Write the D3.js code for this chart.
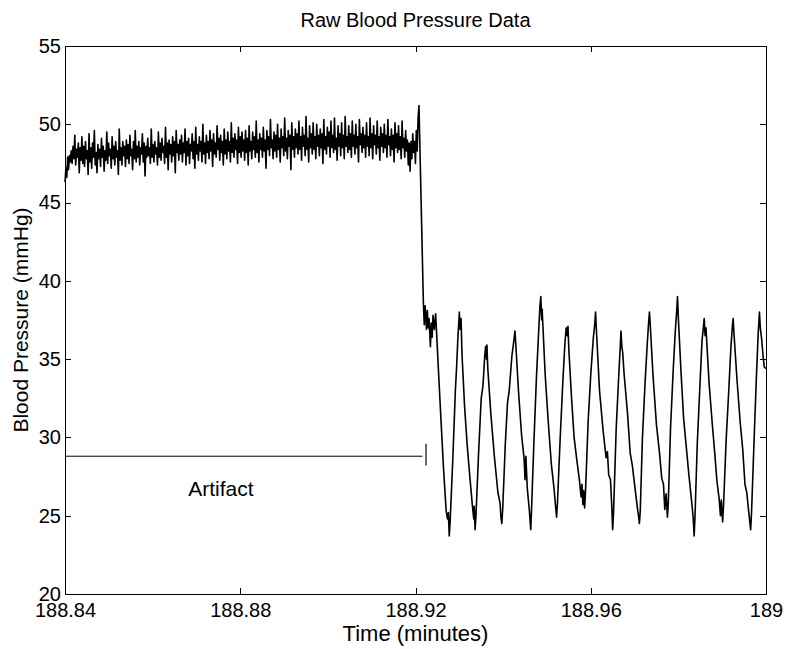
<!DOCTYPE html>
<html lang="en">

<head>
    <meta charset="UTF-8">
    <title>Raw Blood Pressure Data</title>
    <script src="https://d3js.org/d3.v7.min.js"></script>
    <style>
        body {
            margin: 0;
            background: #fff;
            font-family: "Liberation Sans", Arial, sans-serif;
        }

        .axis path,
        .axis line {
            stroke: #000;
            shape-rendering: crispEdges;
        }

        .axis text {
            font-family: "Liberation Sans", Arial, sans-serif;
            font-size: 20px;
            fill: #000;
        }
    </style>
</head>

<body>

    <svg width="790" height="649"></svg>

    <script>
        // evenly sampled segment before the artifact (start time, step in minutes)
        const earlyStart = 188.84;
        const earlyStep = 0.000203;
        const earlyValues = [
            46.3, 47.2, 46.6, 47.9, 47.1, 48.0, 47.6, 48.3, 47.5, 48.6, 47.8, 49.3, 47.4, 48.4, 47.9, 48.8, 46.9, 48.5, 47.7, 49.2,
            47.5, 48.6, 47.3, 48.9, 47.8, 48.3, 46.8, 49.4, 47.6, 48.5, 47.2, 48.8, 47.9, 49.6, 47.4, 48.2, 46.9, 48.7, 47.8, 48.4,
            47.3, 49.1, 47.9, 48.6, 47.0, 48.3, 47.7, 49.5, 47.5, 48.8, 48.0, 48.4, 47.2, 49.2, 47.8, 48.6, 47.4, 48.9, 47.9, 48.3,
            46.8, 49.7, 47.7, 48.5, 47.4, 48.9, 48.0, 48.6, 47.3, 49.0, 47.8, 48.7, 47.5, 49.3, 48.0, 48.4, 47.1, 48.9, 47.8, 49.6,
            47.6, 48.6, 47.9, 48.9, 47.4, 48.5, 48.1, 49.4, 47.6, 48.8, 46.7, 48.6, 47.9, 49.1, 48.0, 48.5, 47.5, 49.7, 47.9, 48.7,
            47.6, 48.9, 48.1, 48.5, 47.4, 49.5, 47.9, 48.8, 47.7, 49.1, 48.2, 48.6, 47.5, 49.8, 47.9, 48.8, 47.1, 49.0, 48.1, 48.7,
            47.6, 49.2, 48.0, 48.9, 46.9, 49.6, 48.2, 48.7, 47.7, 49.0, 48.1, 49.3, 47.6, 48.8, 48.2, 49.7, 47.4, 48.9, 48.0, 49.1,
            47.5, 48.7, 48.3, 49.4, 47.8, 48.9, 47.2, 49.8, 48.1, 48.7, 47.7, 49.2, 48.3, 48.9, 47.6, 50.0, 48.1, 48.8, 47.5, 49.3,
            48.2, 48.9, 47.8, 49.6, 48.3, 49.0, 47.3, 49.4, 48.1, 48.8, 47.9, 49.9, 48.4, 49.1, 47.7, 49.3, 48.2, 48.9, 47.4, 49.7,
            48.1, 49.0, 47.8, 49.5, 48.3, 48.9, 47.6, 50.1, 48.2, 49.1, 47.9, 49.4, 48.4, 49.0, 47.5, 49.8, 48.2, 49.2, 47.9, 49.5,
            48.3, 49.0, 47.7, 49.6, 48.2, 49.1, 47.4, 49.9, 48.3, 48.9, 47.8, 49.5, 48.4, 49.2, 47.9, 50.2, 48.2, 49.0, 47.6, 49.4,
            48.4, 49.1, 47.9, 49.8, 48.3, 49.0, 47.2, 49.6, 48.4, 49.2, 48.0, 50.3, 48.5, 49.0, 47.8, 49.5, 48.3, 49.3, 47.9, 50.0,
            48.4, 49.1, 47.6, 49.7, 48.5, 49.2, 48.0, 50.4, 48.3, 49.1, 47.8, 49.6, 48.6, 49.3, 47.1, 50.1, 48.4, 49.2, 47.9, 49.7,
            48.5, 49.4, 48.1, 50.2, 48.4, 49.2, 47.7, 49.8, 48.6, 49.3, 48.0, 50.5, 48.4, 49.1, 47.6, 49.9, 48.5, 49.4, 48.1, 50.1,
            48.4, 49.2, 47.8, 50.0, 48.6, 49.3, 48.0, 49.7, 48.5, 49.4, 47.5, 50.3, 48.4, 49.2, 48.1, 49.8, 48.6, 49.5, 47.9, 50.2,
            48.5, 49.3, 48.2, 50.4, 48.4, 49.1, 47.7, 49.9, 48.6, 49.4, 48.0, 50.1, 48.5, 49.3, 47.8, 50.5, 48.6, 49.2, 48.2, 49.9,
            48.4, 49.4, 47.9, 50.2, 48.6, 49.3, 48.1, 50.0, 48.5, 49.2, 47.6, 50.3, 48.7, 49.4, 48.2, 49.8, 48.5, 49.3, 47.9, 50.1,
            48.6, 49.2, 48.0, 50.4, 48.5, 49.4, 47.8, 49.9, 48.7, 49.3, 48.1, 50.2, 48.5, 49.2, 47.7, 49.8, 48.6, 49.4, 48.2, 50.0,
            48.5, 49.3, 47.9, 50.3, 48.7, 49.2, 48.0, 49.7, 48.4, 49.3, 47.6, 50.1, 48.5, 49.4, 48.2, 49.9, 48.4, 49.2, 47.8, 50.2,
            48.5, 49.1, 47.9, 49.6, 48.3, 49.0, 47.4, 48.8, 47.0, 48.9, 47.8, 49.4, 48.2, 48.9, 47.5, 49.6, 48.3, 50.4,
            51.2
        ];

        // after the artifact: times and values
        const lateTimes = [
            188.9218, 188.9220, 188.9222, 188.9225, 188.9227, 188.9229, 188.9231, 188.9234, 188.9236, 188.9238, 188.9240, 188.9243, 188.9246,
            188.9252, 188.9258, 188.9264, 188.9270, 188.9273, 188.9275, 188.9277, 188.9279,
            188.9285, 188.9291, 188.9294, 188.9297, 188.9299, 188.9300, 188.9302, 188.9304, 188.9306,
            188.9312, 188.9318, 188.9324, 188.9330, 188.9333, 188.9334, 188.9336, 188.9338,
            188.9344, 188.9350, 188.9354, 188.9358, 188.9360, 188.9362, 188.9363, 188.9365,
            188.9372, 188.9380, 188.9388, 188.9393, 188.9395, 188.9397, 188.9399,
            188.9405, 188.9410, 188.9414, 188.9420, 188.9425, 188.9427, 188.9429,
            188.9435, 188.9442, 188.9448, 188.9450, 188.9452, 188.9455, 188.9460, 188.9463, 188.9465,
            188.9470, 188.9476, 188.9481, 188.9484, 188.9486, 188.9488, 188.9489,
            188.9496, 188.9503, 188.9510, 188.9516, 188.9520, 188.9522, 188.9524,
            188.9530, 188.9536, 188.9541, 188.9544, 188.9546, 188.9548, 188.9550,
            188.9556, 188.9562, 188.9568, 188.9574, 188.9578, 188.9580, 188.9582, 188.9584, 188.9586, 188.9588,
            188.9594, 188.9600, 188.9606, 188.9609, 188.9611, 188.9613,
            188.9620, 188.9628, 188.9635, 188.9638, 188.9641, 188.9645, 188.9648, 188.9650, 188.9652,
            188.9658, 188.9664, 188.9667, 188.9669, 188.9671, 188.9673, 188.9676,
            188.9684, 188.9690, 188.9695, 188.9700, 188.9706, 188.9709, 188.9711, 188.9713,
            188.9718, 188.9724, 188.9729, 188.9732, 188.9734, 188.9736,
            188.9742, 188.9750, 188.9757, 188.9762, 188.9766, 188.9769, 188.9772, 188.9775, 188.9777,
            188.9782, 188.9788, 188.9793, 188.9796, 188.9798, 188.9800,
            188.9806, 188.9812, 188.9818, 188.9824, 188.9830, 188.9834, 188.9836, 188.9838,
            188.9843, 188.9849, 188.9854, 188.9857, 188.9859, 188.9861, 188.9863,
            188.9870, 188.9877, 188.9883, 188.9888, 188.9893, 188.9896, 188.9898, 188.9901, 188.9903,
            188.9909, 188.9915, 188.9920, 188.9923, 188.9925, 188.9927,
            188.9934, 188.9941, 188.9947, 188.9952, 188.9956, 188.9960, 188.9965, 188.9967,
            188.9973, 188.9978, 188.9982, 188.9985, 188.9987, 188.9990, 188.9993, 188.9996, 189.0000
        ];
        const lateValues = [
            38.6, 37.2, 38.4, 36.9, 38.1, 37.0, 37.6, 35.8, 37.3, 36.4, 37.8, 36.9, 37.9,
            34.5, 31.2, 28.0, 25.3, 24.8, 25.2, 23.7, 24.6,
            28.5, 33.0, 34.6, 36.5, 37.4, 38.0, 36.9, 37.6, 35.4,
            32.0, 29.5, 27.5, 25.6, 24.8, 25.6, 24.1, 25.0,
            29.0, 32.5, 33.3, 35.2, 35.8, 35.0, 35.9, 34.4,
            31.5, 28.8, 26.5, 25.8, 24.9, 24.5, 25.4,
            29.6, 32.2, 33.0, 35.2, 36.3, 36.8, 35.9,
            33.0, 30.2, 28.6, 27.3, 28.8, 26.8, 25.3, 24.1, 25.5,
            29.5, 33.8, 36.7, 38.4, 39.0, 37.5, 38.2,
            34.0, 31.0, 28.3, 26.8, 25.5, 24.9, 25.8,
            29.8, 33.4, 36.0, 37.0, 36.5, 37.1, 35.6,
            32.6, 30.0, 28.6, 27.3, 26.2, 27.0, 25.7, 26.6, 25.5, 26.5,
            31.0, 34.0, 36.4, 37.2, 38.0, 36.8,
            33.0, 30.5, 28.7, 29.1, 27.6, 27.3, 25.6, 24.1, 25.2,
            30.5, 34.0, 35.6, 36.8, 35.8, 35.4, 34.1,
            31.5, 29.0, 28.2, 27.0, 25.6, 25.0, 24.5, 25.3,
            30.0, 33.5, 36.0, 37.3, 38.0, 37.1,
            34.0, 30.8, 29.0, 27.4, 27.0, 25.4, 26.4, 24.9, 25.8,
            30.5, 34.2, 36.8, 38.0, 39.0, 37.6,
            34.2, 31.2, 29.4, 27.6, 26.0, 24.8, 23.7, 25.0,
            29.5, 33.2, 36.2, 37.0, 37.6, 36.5, 37.0,
            33.5, 31.0, 29.0, 27.2, 26.1, 25.0, 26.0, 24.6, 25.6,
            29.8, 33.0, 35.8, 37.0, 37.6, 36.6,
            33.6, 31.0, 29.2, 27.0, 26.5, 25.4, 24.1, 25.2,
            30.0, 33.8, 36.5, 38.0, 37.0, 36.3, 35.3, 34.5, 34.4
        ];

        // "Artifact" marker: level line up to the break, short bar just after it
        const artifactLevel = 28.8;
        const artifactEnd = 188.9216;
        const artifactBarTime = 188.9224;
        const artifactBarRange = [28.2, 29.6];
        const artifactLabel = { t: 188.8756, v: 26.25, text: "Artifact" };

        const xDomain = [188.84, 189];
        const yDomain = [20, 55];
        const xTicks = [188.84, 188.88, 188.92, 188.96, 189];
        const xTickLabels = ["188.84", "188.88", "188.92", "188.96", "189"];
        const yTicks = [20, 25, 30, 35, 40, 45, 50, 55];

        const svg = d3.select("svg");
        const margin = { top: 46, right: 24, bottom: 55, left: 65 };
        const width = 790 - margin.left - margin.right;
        const height = 649 - margin.top - margin.bottom;

        const g = svg.append("g").attr("transform", `translate(${margin.left},${margin.top})`);

        const x = d3.scaleLinear().domain(xDomain).range([0, width]);
        const y = d3.scaleLinear().domain(yDomain).range([height, 0]);

        const trace = earlyValues.map((v, i) => ({ t: earlyStart + i * earlyStep, v: v }))
            .concat(lateTimes.map((t, i) => ({ t: t, v: lateValues[i] })));

        const line = d3.line().x(d => x(d.t)).y(d => y(d.v));

        g.append("path")
            .datum(trace)
            .attr("fill", "none")
            .attr("stroke", "#000")
            .attr("stroke-width", 1.6)
            .attr("stroke-linejoin", "round")
            .attr("d", line);

        // artifact annotation
        g.append("line")
            .attr("x1", x(xDomain[0])).attr("x2", x(artifactEnd))
            .attr("y1", y(artifactLevel)).attr("y2", y(artifactLevel))
            .attr("stroke", "#000").attr("stroke-width", 1);
        g.append("line")
            .attr("x1", x(artifactBarTime)).attr("x2", x(artifactBarTime))
            .attr("y1", y(artifactBarRange[0])).attr("y2", y(artifactBarRange[1]))
            .attr("stroke", "#000").attr("stroke-width", 1.2);
        g.append("text")
            .attr("x", x(artifactLabel.t))
            .attr("y", y(artifactLabel.v))
            .attr("text-anchor", "middle")
            .attr("font-size", 21)
            .text(artifactLabel.text);

        // axes, ticks pointing inward on all four sides
        g.append("g").attr("class", "axis")
            .attr("transform", `translate(0,${height})`)
            .call(d3.axisBottom(x).tickValues(xTicks).tickFormat((d, i) => xTickLabels[i])
                .tickSizeInner(-6).tickSizeOuter(0).tickPadding(9));
        g.append("g").attr("class", "axis")
            .call(d3.axisTop(x).tickValues(xTicks).tickFormat("")
                .tickSizeInner(-6).tickSizeOuter(0));
        g.append("g").attr("class", "axis")
            .call(d3.axisLeft(y).tickValues(yTicks)
                .tickSizeInner(-6).tickSizeOuter(0).tickPadding(4));
        g.append("g").attr("class", "axis")
            .attr("transform", `translate(${width},0)`)
            .call(d3.axisRight(y).tickValues(yTicks).tickFormat("")
                .tickSizeInner(-6).tickSizeOuter(0));

        // titles
        svg.append("text")
            .attr("x", margin.left + width / 2)
            .attr("y", 27)
            .attr("text-anchor", "middle")
            .attr("font-size", 20)
            .text("Raw Blood Pressure Data");

        svg.append("text")
            .attr("x", margin.left + width / 2)
            .attr("y", 641)
            .attr("text-anchor", "middle")
            .attr("font-size", 22)
            .text("Time (minutes)");

        svg.append("text")
            .attr("transform", `translate(28,${margin.top + height / 2}) rotate(-90)`)
            .attr("text-anchor", "middle")
            .attr("font-size", 21)
            .text("Blood Pressure (mmHg)");
    </script>

</body>

</html>
